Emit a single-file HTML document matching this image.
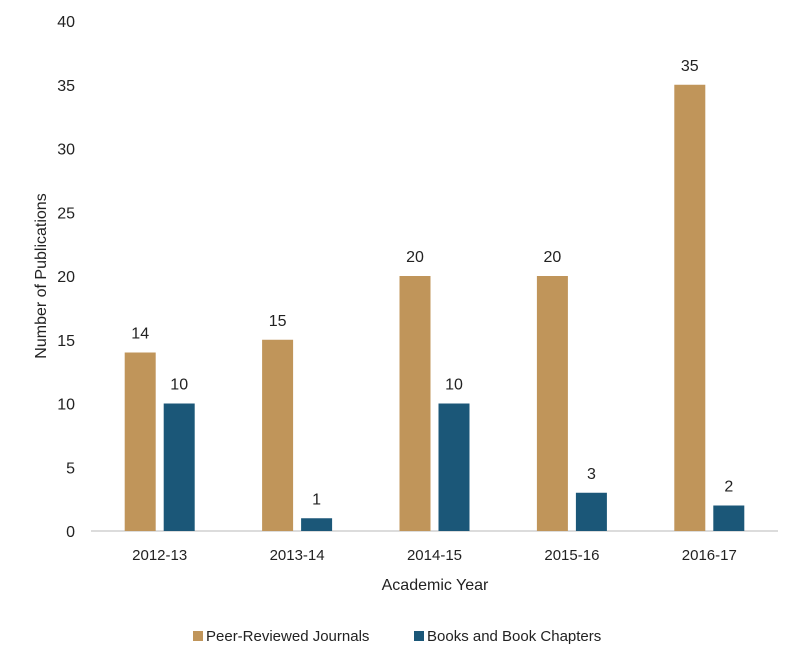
<!DOCTYPE html>
<html><head><meta charset="utf-8"><style>
body{margin:0;background:#fff;}
svg text{font-family:"Liberation Sans",sans-serif;fill:#222;}
</style></head><body>
<svg width="800" height="667" xmlns="http://www.w3.org/2000/svg">
<g id="plot"></g>
<text x="46" y="276" font-size="16" text-anchor="middle" transform="rotate(-90 46 276)">Number of Publications</text>
<text x="435" y="590" font-size="16" text-anchor="middle">Academic Year</text>
<g>
<rect x="193" y="631" width="10" height="10" fill="#C0955A"/>
<text x="206" y="641" font-size="15">Peer-Reviewed Journals</text>
<rect x="414" y="631" width="10" height="10" fill="#1B5778"/>
<text x="427" y="641" font-size="15">Books and Book Chapters</text>
</g>
</svg>
<script>
const categories=["2012-13","2013-14","2014-15","2015-16","2016-17"];
const journals=[14,15,20,20,35];
const books=[10,1,10,3,2];
const yTicks=[0,5,10,15,20,25,30,35,40];
const NS="http://www.w3.org/2000/svg";
const g=document.getElementById("plot");
const x0=91,x1=778,y0=531,yTop=21,yMax=40;
const step=(x1-x0)/categories.length;
const y=v=>y0-(v/yMax)*(y0-yTop);
const cx=i=>x0+step*(i+0.5);
function mk(tag,attrs,txt){const e=document.createElementNS(NS,tag);for(const k in attrs)e.setAttribute(k,attrs[k]);if(txt!==undefined)e.textContent=txt;g.appendChild(e);return e;}
yTicks.forEach(t=>{
  const e=mk("text",{x:75,y:y(t)+6,"font-size":16,"text-anchor":"end"},t);
  
  
});
const ax=mk("line",{x1:x0,x2:x1,y1:y0,y2:y0,stroke:"#d0d0d0","stroke-width":1.5});


categories.forEach((c,i)=>{
  const lt=mk("text",{x:cx(i),y:560,"font-size":15,"text-anchor":"middle"},c);
  
  
  const b1=mk("rect",{x:cx(i)-35,y:y(journals[i]),width:31,height:y0-y(journals[i]),fill:"#C0955A"});
  
  
  const v1=mk("text",{x:cx(i)-19.5,y:y(journals[i])-14,"font-size":16,"text-anchor":"middle"},journals[i]);
  
  
  const b2=mk("rect",{x:cx(i)+4,y:y(books[i]),width:31,height:y0-y(books[i]),fill:"#1B5778"});
  
  
  const v2=mk("text",{x:cx(i)+19.5,y:y(books[i])-14,"font-size":16,"text-anchor":"middle"},books[i]);
  
  
});
</script>
</body></html>
